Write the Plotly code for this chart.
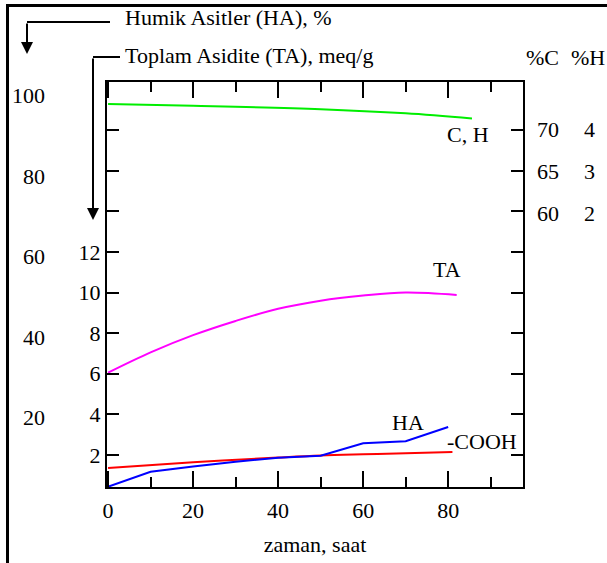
import plotly.graph_objects as go

# ---------------- data ----------------
ch_time = [0, 20, 50, 70, 85.6]
ch_carbon = [73.0, 72.8, 72.4, 71.9, 71.3]          # %C scale

ta_time = [0, 10, 20, 30, 40, 50, 60, 70, 82]
ta_values = [6.05, 7.05, 7.9, 8.6, 9.2, 9.6, 9.85, 10.0, 9.88]   # meq/g

ha_time = [0, 10, 20, 30, 40, 50, 60, 70, 80]
ha_values = [2.9, 6.6, 7.9, 9.1, 10.1, 10.6, 13.7, 14.2, 17.7]  # %

cooh_time = [0, 20, 40, 50, 60, 70, 81]
cooh_values = [1.36, 1.64, 1.87, 1.97, 2.03, 2.08, 2.14]

x_ticks = [0, 20, 40, 60, 80]
x_minor = [10, 30, 50, 70, 90]
ta_ticks = [2, 4, 6, 8, 10, 12, 14, 16, 18]
ta_tick_text = ["2", "4", "6", "8", "10", "12", "", "", ""]
ha_ticks = [20, 40, 60, 80, 100]
c_ticks = [60, 65, 70]
h_ticks = [2, 3, 4]

# ---------------- layout helpers ----------------
W, H = 607, 563
ML, MR, MT, MB = 45, 5, 82, 76
PW = W - ML - MR
PH = H - MT - MB


def pxx(px):
    return (px - ML) / PW


def pxy(py):
    return (H - MB - py) / PH


FONT = "Liberation Serif, Times New Roman, DejaVu Serif, serif"
fs = 22
black = "#000000"

fig = go.Figure()
fig.add_trace(go.Scatter(x=ch_time, y=ch_carbon, mode="lines", yaxis="y3",
                         line=dict(color="#00ee00", width=2, shape="spline")))
fig.add_trace(go.Scatter(x=ta_time, y=ta_values, mode="lines", yaxis="y",
                         line=dict(color="#ff00ff", width=2, shape="spline")))
fig.add_trace(go.Scatter(x=ha_time, y=ha_values, mode="lines", yaxis="y2",
                         line=dict(color="#0000ff", width=2)))
fig.add_trace(go.Scatter(x=cooh_time, y=cooh_values, mode="lines", yaxis="y",
                         line=dict(color="#ff0000", width=2, shape="spline")))
fig.add_trace(go.Scatter(x=[None], y=[None], yaxis="y4", showlegend=False))

tickfont = dict(family=FONT, size=fs, color=black)

fig.update_layout(
    width=W, height=H,
    margin=dict(l=ML, r=MR, t=MT, b=MB),
    paper_bgcolor="white", plot_bgcolor="white",
    showlegend=False,
    font=dict(family=FONT, size=fs, color=black),
    xaxis=dict(
        domain=[pxx(107), pxx(523)], range=[-0.25, 97.6], anchor="y",
        showline=True, linecolor=black, linewidth=2, mirror="ticks",
        ticks="inside", ticklen=16, tickwidth=2, tickcolor=black,
        tickmode="array", tickvals=x_ticks, ticktext=[str(v) for v in x_ticks],
        minor=dict(tickmode="array", tickvals=x_minor, ticks="inside",
                   ticklen=10, tickwidth=2, tickcolor=black),
        showgrid=False, zeroline=False, tickfont=tickfont, ticklabelstandoff=3,
        title=dict(text="zaman, saat", font=dict(family=FONT, size=fs, color=black), standoff=14),
    ),
    yaxis=dict(
        range=[0.42, 20.37], anchor="x", domain=[0, 1],
        showline=True, linecolor=black, linewidth=2, mirror="ticks",
        ticks="inside", ticklen=12, tickwidth=2, tickcolor=black,
        tickmode="array", tickvals=ta_ticks, ticktext=ta_tick_text,
        showgrid=False, zeroline=False, tickfont=tickfont,
    ),
    yaxis2=dict(
        overlaying="y", anchor="free", position=0, side="left",
        range=[2.83, 103.3], tickmode="array", tickvals=ha_ticks,
        showline=False, ticks="", showgrid=False, zeroline=False, tickfont=tickfont,
    ),
    yaxis3=dict(
        overlaying="y", anchor="free", position=pxx(536), side="right",
        range=[27.42, 75.63], tickmode="array", tickvals=c_ticks,
        showline=False, ticks="", showgrid=False, zeroline=False, tickfont=tickfont,
    ),
    yaxis4=dict(
        overlaying="y", anchor="free", position=pxx(583), side="right",
        range=[-4.52, 5.126], tickmode="array", tickvals=h_ticks,
        showline=False, ticks="", showgrid=False, zeroline=False, tickfont=tickfont,
    ),
)

# curve labels
labels = [("C, H", 84.6, 17.76), ("TA", 79.7, 11.11), ("HA", 70.5, 3.62), ("-COOH", 88.0, 2.64)]
for t, x, y in labels:
    fig.add_annotation(text=t, x=x, y=y, xref="x", yref="y", showarrow=False,
                       xanchor="center", yanchor="middle",
                       font=dict(family=FONT, size=fs, color=black))

# headers
fig.add_annotation(text="Humik Asitler (HA), %", x=pxx(123), y=pxy(18), xref="paper", yref="paper",
                   xanchor="left", yanchor="middle", showarrow=False,
                   font=dict(family=FONT, size=fs, color=black))
fig.add_annotation(text="Toplam Asidite (TA), meq/g", x=pxx(123), y=pxy(55), xref="paper", yref="paper",
                   xanchor="left", yanchor="middle", showarrow=False,
                   font=dict(family=FONT, size=fs, color=black))
fig.add_annotation(text="%C", x=pxx(542), y=pxy(58), xref="paper", yref="paper",
                   xanchor="center", yanchor="middle", showarrow=False,
                   font=dict(family=FONT, size=fs, color=black))
fig.add_annotation(text="%H", x=pxx(588), y=pxy(58), xref="paper", yref="paper",
                   xanchor="center", yanchor="middle", showarrow=False,
                   font=dict(family=FONT, size=fs, color=black))

# arrows
fig.add_shape(type="line", xref="paper", yref="paper", x0=pxx(27), y0=pxy(22), x1=pxx(110), y1=pxy(22),
              line=dict(color=black, width=2))
fig.add_annotation(text="", x=pxx(27), y=pxy(54), ax=0, ay=-(54 - 22), xref="paper", yref="paper",
                   axref="pixel", ayref="pixel", showarrow=True, arrowhead=2, arrowsize=1.2,
                   arrowwidth=2, arrowcolor=black)
fig.add_shape(type="line", xref="paper", yref="paper", x0=pxx(93), y0=pxy(57), x1=pxx(120), y1=pxy(57),
              line=dict(color=black, width=2))
fig.add_annotation(text="", x=pxx(93), y=pxy(220), ax=0, ay=-(220 - 57), xref="paper", yref="paper",
                   axref="pixel", ayref="pixel", showarrow=True, arrowhead=2, arrowsize=1.2,
                   arrowwidth=2, arrowcolor=black)

# outer frame (top and left only)
fig.add_shape(type="line", xref="paper", yref="paper", x0=pxx(6), y0=pxy(5.5), x1=pxx(607), y1=pxy(5.5),
              line=dict(color=black, width=3))
fig.add_shape(type="line", xref="paper", yref="paper", x0=pxx(7.5), y0=pxy(4), x1=pxx(7.5), y1=pxy(563),
              line=dict(color=black, width=3))

fig.write_html("out.html")
